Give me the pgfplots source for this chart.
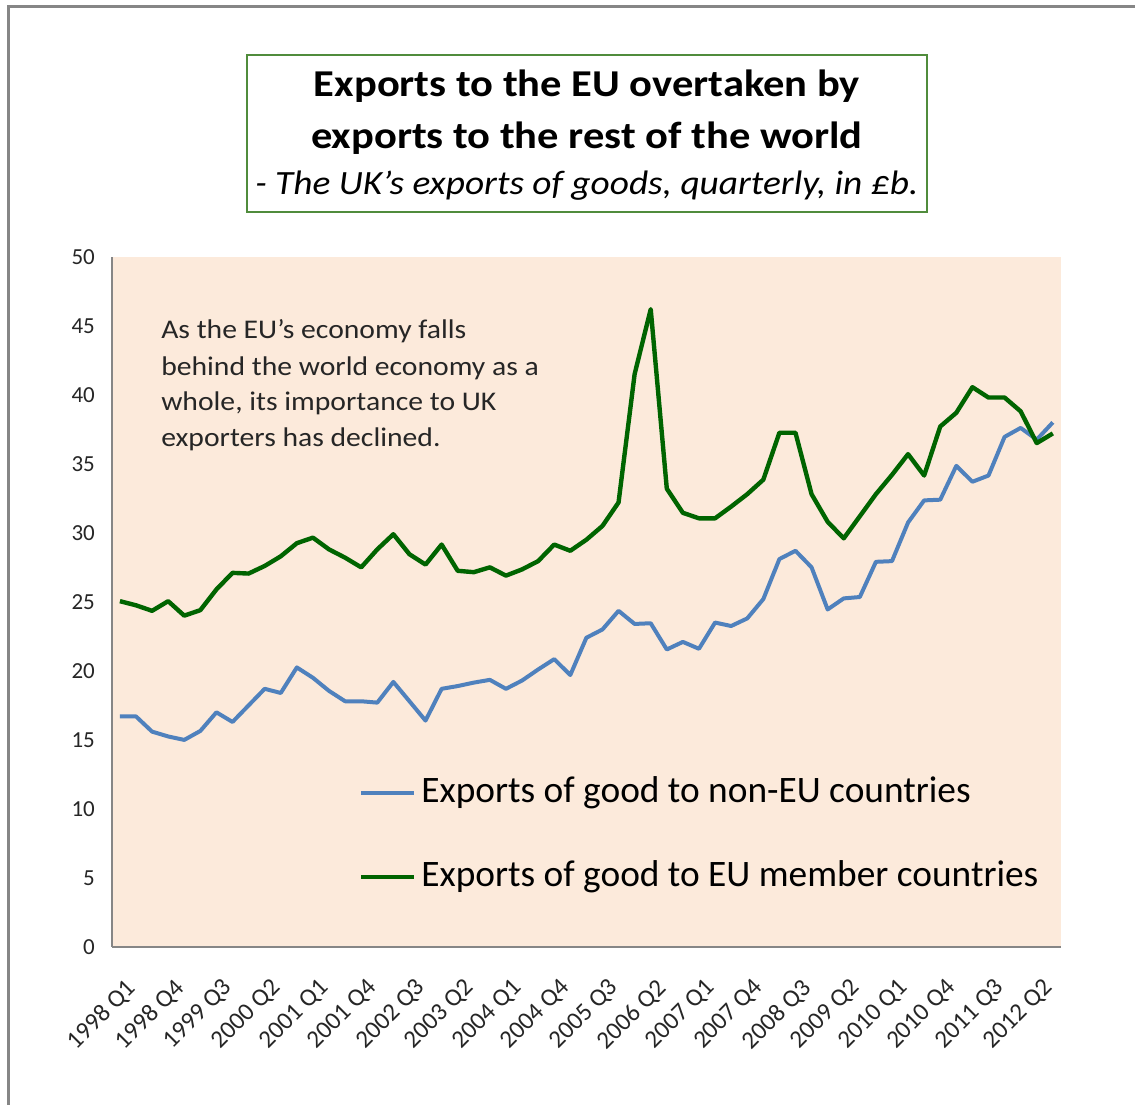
\documentclass[border=0pt]{standalone}
\usepackage{pgfplots}
\pgfplotsset{compat=1.18}
\usepackage{pgfplotstable}
\usepackage{fontspec}
\setmainfont{Carlito}
\definecolor{peach}{RGB}{252,234,219}
\definecolor{ukblue}{RGB}{79,129,189}
\definecolor{ukgreen}{RGB}{0,100,0}
\definecolor{boxgreen}{RGB}{80,140,60}
\definecolor{axisgray}{RGB}{134,134,134}
\pgfplotstableread{
x nonEU EU
0 16.7 25.05
1 16.7 24.75
2 15.6 24.35
3 15.25 25.05
4 15.0 24.0
5 15.65 24.4
6 17.0 25.9
7 16.3 27.1
8 17.5 27.05
9 18.7 27.6
10 18.4 28.3
11 20.25 29.25
12 19.5 29.65
13 18.55 28.8
14 17.8 28.2
15 17.8 27.5
16 17.7 28.8
17 19.2 29.9
18 17.8 28.45
19 16.4 27.7
20 18.7 29.15
21 18.9 27.25
22 19.15 27.15
23 19.35 27.5
24 18.7 26.9
25 19.3 27.35
26 20.1 27.95
27 20.85 29.15
28 19.7 28.7
29 22.4 29.5
30 23.0 30.5
31 24.35 32.2
32 23.4 41.5
33 23.45 46.2
34 21.55 33.2
35 22.1 31.45
36 21.6 31.05
37 23.5 31.05
38 23.25 31.9
39 23.8 32.8
40 25.2 33.85
41 28.1 37.25
42 28.7 37.25
43 27.5 32.8
44 24.45 30.8
45 25.25 29.6
46 25.35 31.2
47 27.9 32.8
48 27.95 34.2
49 30.75 35.7
50 32.35 34.15
51 32.4 37.7
52 34.85 38.7
53 33.7 40.55
54 34.15 39.8
55 36.95 39.8
56 37.6 38.8
57 36.75 36.5
58 38.0 37.2
}\data
\begin{document}
\begin{tikzpicture}
\begin{axis}[
  scale only axis, width=475pt, height=345.5pt,
  xmin=-0.5, xmax=58.5, ymin=0, ymax=50,
  axis x line*=bottom, axis y line*=left,
  axis line style={axisgray, line width=0.75pt},
  axis background/.style={fill=peach},
  major tick length=0pt,
  ytick={0,5,...,50},
  xtick={0,3,...,57},
  xticklabels={1998 Q1,1998 Q4,1999 Q3,2000 Q2,2001 Q1,2001 Q4,2002 Q3,2003 Q2,2004 Q1,2004 Q4,2005 Q3,2006 Q2,2007 Q1,2007 Q4,2008 Q3,2009 Q2,2010 Q1,2010 Q4,2011 Q3,2012 Q2},
  /pgf/number format/assume math mode=true,
  yticklabel style={font=\fontsize{11.5}{13}\selectfont, text=black!85, xshift=-5pt},
  xticklabel style={font=\fontsize{12.5}{14}\selectfont, text=black!85, rotate=45, anchor=north east, yshift=-9pt, xshift=-5.5pt},
  legend style={at={(0.26,0.162)}, anchor=west, draw=none, fill=none,
    font=\fontsize{18.7}{22}\selectfont, row sep=25pt, inner sep=0pt,
    nodes={text height=13pt, text depth=4pt, inner sep=0pt}},
  legend cell align=left,
  legend image code/.code={\draw[#1, line cap=butt] (0pt,0pt) -- (26.5pt,0pt);},
  clip=false,
]
\addplot[ukblue, line width=2pt, line join=round] table[x=x, y=nonEU] {\data};
\addlegendentry{\hspace{2.5pt}Exports of good to non-EU countries}
\addplot[ukgreen, line width=2.2pt, line join=round] table[x=x, y=EU] {\data};
\addlegendentry{\hspace{2.5pt}Exports of good to EU member countries}
\coordinate (O) at (rel axis cs:0,0);
\end{axis}
\begin{scope}[shift={(O)}, xshift=-56pt, yshift=-79pt, x=0.5pt, y=0.5pt]
\draw[axisgray, line width=1.2pt] (8.5,0) -- (8.5,1099.5) -- (1136,1099.5);
% title box
\draw[boxgreen, line width=0.8pt] (247,894) rectangle (928,1051);
\node[anchor=base, inner sep=0pt, xscale=1.12, font=\fontsize{19}{22}\selectfont\bfseries] at (587.5,1009) {Exports to the EU overtaken by};
\node[anchor=base, inner sep=0pt, xscale=1.12, font=\fontsize{19}{22}\selectfont\bfseries] at (587.5,957) {exports to the rest of the world};
\node[anchor=base, inner sep=0pt, xscale=1.1, font=\fontsize{17}{20}\selectfont\itshape] at (587.5,911) {- The UK's exports of goods, quarterly, in £b.};
\begin{scope}[font=\fontsize{13.5}{18}\selectfont, black!85]
\node[anchor=base west, inner sep=0pt, xscale=1.1] at (161,767) {As the EU's economy falls};
\node[anchor=base west, inner sep=0pt, xscale=1.1] at (161,730) {behind the world economy as a};
\node[anchor=base west, inner sep=0pt, xscale=1.1] at (161,695) {whole, its importance to UK};
\node[anchor=base west, inner sep=0pt, xscale=1.1] at (161,659) {exporters has declined.};
\end{scope}
\path (0,0) rectangle (1136,1106);
\end{scope}
\end{tikzpicture}
\end{document}
